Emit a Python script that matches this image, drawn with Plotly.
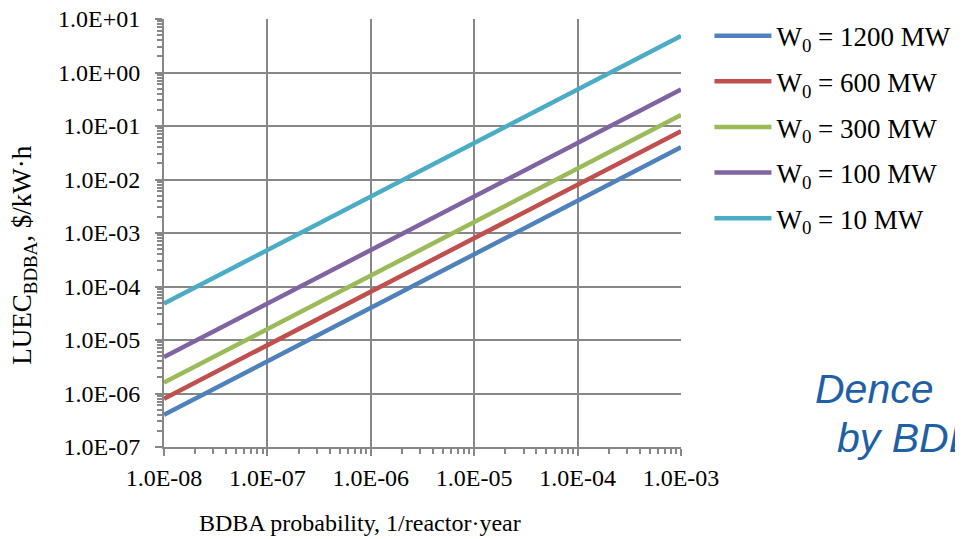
import plotly.graph_objects as go

# ---- data ----
probability = [1e-8, 1e-7, 1e-6, 1e-5, 1e-4, 1e-3]
series_names = ["W<sub>0</sub> = 1200 MW", "W<sub>0</sub> = 600 MW", "W<sub>0</sub> = 300 MW",
                "W<sub>0</sub> = 100 MW", "W<sub>0</sub> = 10 MW"]
luec_1200 = [4.0e-7, 4.0e-6, 4.0e-5, 4.0e-4, 4.0e-3, 4.0e-2]
luec_600 = [8.0e-7, 8.0e-6, 8.0e-5, 8.0e-4, 8.0e-3, 8.0e-2]
luec_300 = [1.6e-6, 1.6e-5, 1.6e-4, 1.6e-3, 1.6e-2, 1.6e-1]
luec_100 = [4.8e-6, 4.8e-5, 4.8e-4, 4.8e-3, 4.8e-2, 4.8e-1]
luec_10 = [4.8e-5, 4.8e-4, 4.8e-3, 4.8e-2, 4.8e-1, 4.8e0]
series_values = [luec_1200, luec_600, luec_300, luec_100, luec_10]
colors = ["#4F81BD", "#C0504D", "#9BBB59", "#8064A2", "#4BACC6"]

x_tickvals = [1e-8, 1e-7, 1e-6, 1e-5, 1e-4, 1e-3]
x_ticktext = ["1.0E-08", "1.0E-07", "1.0E-06", "1.0E-05", "1.0E-04", "1.0E-03"]
y_tickvals = [1e-7, 1e-6, 1e-5, 1e-4, 1e-3, 1e-2, 1e-1, 1e0, 1e1]
y_ticktext = ["1.0E-07", "1.0E-06", "1.0E-05", "1.0E-04", "1.0E-03",
              "1.0E-02", "1.0E-01", "1.0E+00", "1.0E+01"]
x_title = "BDBA probability, 1/reactor·year"
y_title = "LUEC<sub>BDBA</sub>, $/kW·h"

SERIF = "Liberation Serif"
SANS = "Liberation Sans"
GRID = "#878787"

fig = go.Figure()
for i, (name, vals, col) in enumerate(zip(series_names, series_values, colors)):
    fig.add_trace(go.Scatter(x=probability, y=vals, mode="lines", name=name,
                             legendgroup=f"g{i}",
                             line=dict(color=col, width=4.5)))

axis_common = dict(
    type="log", showgrid=True, gridcolor=GRID, gridwidth=2,
    showline=True, linecolor=GRID, linewidth=2,
    ticks="outside", ticklen=7, tickwidth=2, tickcolor=GRID,
    tickfont=dict(family=SERIF, size=24, color="#000000"),
    ticklabeloverflow="allow",
    minor=dict(ticks="outside", ticklen=5, tickwidth=1.5, tickcolor=GRID,
               dtick="D1", showgrid=False),
    zeroline=False, mirror=False, automargin=False,
)

fig.update_layout(
    width=963, height=539,
    margin=dict(l=156, r=290, t=11, b=100, autoexpand=False),
    paper_bgcolor="white", plot_bgcolor="white",
    font=dict(family=SERIF, color="#000000"),
    xaxis=dict(axis_common, range=[-8, -3], tickvals=x_tickvals, ticktext=x_ticktext,
               ticklabelstandoff=1),
    yaxis=dict(axis_common, range=[-7, 1], tickvals=y_tickvals, ticktext=y_ticktext,
               ticklabelstandoff=10),
    legend=dict(x=1.055, xanchor="left", y=1.017, yanchor="top",
                font=dict(family=SERIF, size=27, color="#000000"),
                traceorder="grouped", tracegroupgap=7.5,
                bgcolor="rgba(0,0,0,0)", itemwidth=57),
    showlegend=True,
)

fig.add_annotation(text=x_title, xref="paper", yref="paper",
                   x=0.379, y=-0.178, xanchor="center", yanchor="middle", showarrow=False,
                   font=dict(family=SERIF, size=24, color="#000000"))
fig.add_annotation(text=y_title, xref="paper", yref="paper", textangle=-90,
                   x=-0.271, y=0.449, xanchor="center", yanchor="middle", showarrow=False,
                   font=dict(family=SERIF, size=27, color="#000000"))

fig.add_annotation(text="<i>Dence</i>", xref="paper", yref="paper",
                   x=1.255, y=0.135, xanchor="left", yanchor="middle", showarrow=False,
                   font=dict(family=SANS, size=41, color="#1F5FA6"))
fig.add_annotation(text="<i>by BDBA</i>", xref="paper", yref="paper",
                   x=1.297, y=0.02, xanchor="left", yanchor="middle", showarrow=False,
                   font=dict(family=SANS, size=41, color="#1F5FA6"))

fig.write_html("out.html")
